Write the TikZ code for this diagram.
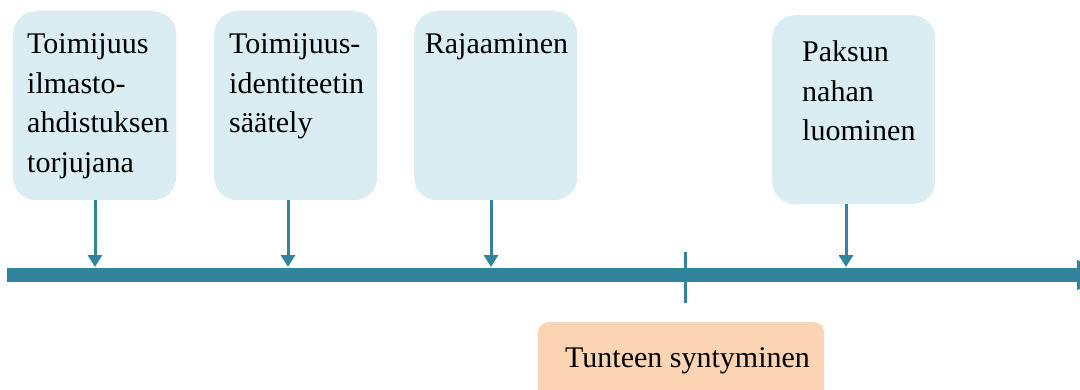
\documentclass[tikz,border=0pt]{standalone}
\usepackage{fontspec}
\setmainfont{Liberation Serif}
\newfontfamily\labelfont{Liberation Serif}
\usetikzlibrary{arrows.meta}
\definecolor{boxblue}{HTML}{DAEDF3}
\definecolor{axisteal}{HTML}{31849B}
\definecolor{boxpeach}{HTML}{FBD4B4}
\begin{document}
\begin{tikzpicture}[x=1pt,y=-1pt,
  stagebox/.style={fill=boxblue, draw=none, rounded corners=23pt, inner sep=0pt,
    minimum width=163pt, minimum height=189pt, anchor=north west},
  phasebox/.style={fill=boxpeach, draw=none, rounded corners=10pt, inner sep=0pt,
    minimum width=286pt, minimum height=80pt, anchor=north west},
  caption/.style={font=\labelfont\fontsize{30}{39.5}\selectfont, inner sep=0pt, align=left,
    anchor=north west, text=black},
  feed/.style={draw=axisteal, line width=3pt, -{Triangle[width=14pt,length=12pt]}},
]
\useasboundingbox (0,0) rectangle (1080,389);
\clip (0,0) rectangle (1080,389);

% stage boxes above the time axis
\node[stagebox] (b1) at (13,11) {};
\node[stagebox] (b2) at (214,11) {};
\node[stagebox] (b3) at (414,11) {};
\node[stagebox] (b4) at (772,15) {};

\node[caption] (c1) at (27,33.5) {Toimijuus\\ilmasto-\\ahdistuksen\\torjujana};
\node[caption] (c2) at (229,33.5) {Toimijuus-\\identiteetin\\säätely};
\node[caption, anchor=north] (c3) at (496.5,33.5) {Rajaaminen};
\node[caption] (c4) at (802,40.5) {Paksun\\nahan\\luominen};

% time axis with its marker
\coordinate (axisstart) at (7,275);
\coordinate (axisend) at (1107,275);
\draw[axisteal, line width=14pt, -{Triangle[width=28pt,length=30pt]}] (axisstart) -- (axisend);
\coordinate (tickA) at (685,252);
\coordinate (tickB) at (685,303);
\draw[axisteal, line width=3pt] (tickA) -- (tickB);

% arrows from the stages onto the axis
\coordinate (p1) at (95,267);
\coordinate (p2) at (288,267);
\coordinate (p3) at (491,267);
\coordinate (p4) at (846,267);
\draw[feed] (p1 |- b1.south) -- (p1);
\draw[feed] (p2 |- b2.south) -- (p2);
\draw[feed] (p3 |- b3.south) -- (p3);
\draw[feed] (p4 |- b4.south) -- (p4);

% phase box below the axis
\node[phasebox] (emerge) at (538,322) {};
\node[caption, anchor=base west] (c5) at (565,367) {Tunteen syntyminen};
\end{tikzpicture}
\end{document}
